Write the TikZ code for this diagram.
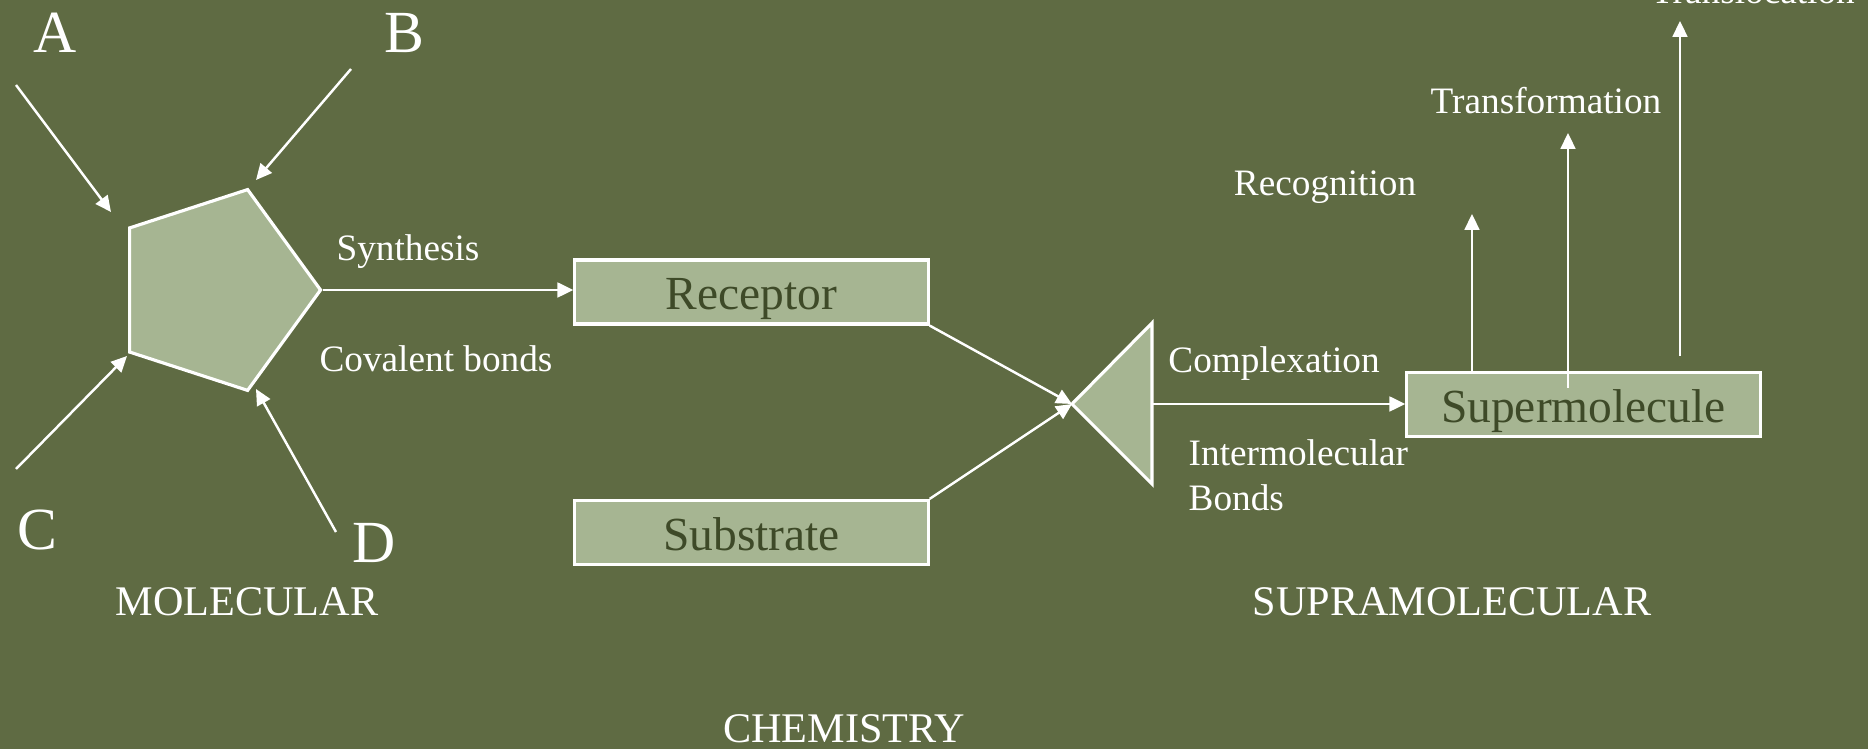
\documentclass[tikz,border=0pt]{standalone}
\usepackage{fontspec}
\setmainfont{Liberation Serif}
\usetikzlibrary{shapes.geometric,arrows.meta}

\definecolor{olivebg}{HTML}{5F6B43}
\definecolor{sagefill}{HTML}{A6B592}
\definecolor{darkolive}{HTML}{3E4A28}

\begin{document}
\begin{tikzpicture}[
		x=0.01cm, y=-0.01cm,
		% Define styles for nodes
		every node/.style={text=white, inner sep=0pt},
		shapebox/.style={draw=white, line width=0.9pt, fill=sagefill},
		stagebox/.style={shapebox, rectangle, minimum width=3.53cm, minimum height=0.64cm,
				text=darkolive, font=\fontsize{13.5}{16}\selectfont, text height=10pt, text depth=0pt},
		arr/.style={draw=white, line width=0.7pt, -{Triangle[length=4.5pt,width=4.2pt]}},
		letter/.style={anchor=base, font=\fontsize{17}{20}\selectfont},
		lbl/.style={anchor=base, font=\fontsize{10.6}{12}\selectfont},
		title/.style={anchor=base, font=\fontsize{12}{14}\selectfont}
	]

	% Background
	\useasboundingbox (0,0) rectangle (1868,749);
	\fill[olivebg] (0,0) rectangle (1868,749);
	\clip (0,0) rectangle (1868,749);

	% Molecular side
	\node[shapebox, regular polygon, regular polygon sides=5, shape border rotate=-90,
		minimum size=2.11cm] (pent) at (215,290) {};

	\node[letter] (lblA) at (55,53) {A};
	\node[letter] (lblB) at (404,53) {B};
	\node[letter] (lblC) at (37,550) {C};
	\node[letter] (lblD) at (374,563) {D};

	\coordinate (aTail) at (16,85);   \coordinate (aHead) at (111,212);
	\coordinate (bTail) at (351,69);  \coordinate (bHead) at (256,180);
	\coordinate (cTail) at (16,469);  \coordinate (cHead) at (127,356);
	\coordinate (dTail) at (336,532); \coordinate (dHead) at (256,389);
	\draw[arr] (aTail) -- (aHead);
	\draw[arr] (bTail) -- (bHead);
	\draw[arr] (cTail) -- (cHead);
	\draw[arr] (dTail) -- (dHead);

	\node[lbl] (synth) at (408,261) {Synthesis};
	\node[lbl] (covb) at (436,372) {Covalent bonds};
	\node[title] (molec) at (247,616) {MOLECULAR};

	% Receptor and substrate
	\node[stagebox] (rec) at (751.5,292) {Receptor};
	\node[stagebox] (sub) at (751.5,532.5) {Substrate};
	\draw[arr] (pent.corner 1) -- (pent.corner 1 -| rec.west);

	% Complexation
	\coordinate (cplx) at (1072,404);
	\coordinate (cplxBase) at (1152,404);
	\draw[shapebox] (cplx) -- (1152,323) -- (1152,484) -- cycle;
	\draw[arr] (rec.south east) -- (cplx);
	\draw[arr] (sub.north east) -- (cplx);

	\node[lbl] (cplxLbl) at (1274,373) {Complexation};
	\node[lbl, anchor=base west] (interLbl) at (1188,466) {Intermolecular};
	\node[lbl, anchor=base west] (bondsLbl) at (1188,511) {Bonds};

	% Supramolecular side
	\node[stagebox] (sup) at (1583.5,404.5) {Supermolecule};
	\draw[arr] (cplxBase) -- (cplxBase -| sup.west);

	\coordinate (recogTip) at (1472,214);
	\coordinate (transfBase) at (1568,388);
	\coordinate (transfTip) at (1568,133);
	\coordinate (translBase) at (1680,356);
	\coordinate (translTip) at (1680,21);
	\draw[arr] (recogTip |- sup.north) -- (recogTip);
	\draw[arr] (transfBase) -- (transfTip);
	\draw[arr] (translBase) -- (translTip);

	\node[lbl] (recogLbl) at (1325,196) {Recognition};
	\node[lbl] (transfLbl) at (1546,114) {Transformation};
	\node[lbl] (translLbl) at (1753,4) {Translocation};

	\node[title] (supra) at (1452,616) {SUPRAMOLECULAR};
	\node[title] (chem) at (844,743) {CHEMISTRY};
\end{tikzpicture}
\end{document}
